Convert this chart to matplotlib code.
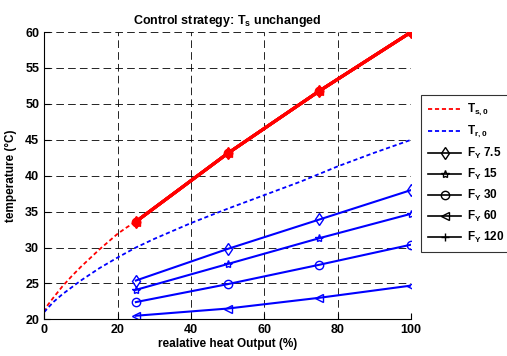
import matplotlib.pyplot as plt
from matplotlib.lines import Line2D

plt.rcParams['font.family'] = ['Liberation Sans', 'DejaVu Sans']
plt.rcParams['font.weight'] = 'bold'
plt.rcParams['lines.scale_dashes'] = False
plt.rcParams['mathtext.fontset'] = 'custom'
plt.rcParams['mathtext.rm'] = 'Liberation Sans'
plt.rcParams['mathtext.bf'] = 'Liberation Sans:bold'

# design curves (dashed)
q_ts0 = [0, 1, 2.5, 5, 7.5, 10, 12.5, 15, 17.5, 20, 22.5, 25]
ts0 = [21.0, 22.0, 23.0, 24.6, 26.0, 27.3, 28.5, 29.7, 30.8, 31.9, 32.8, 33.6]
q_tr0 = [0, 2.5, 5, 10, 15, 20, 25, 30, 40, 50, 60, 70, 80, 90, 100]
tr0 = [21.0, 22.4, 23.5, 25.4, 27.1, 28.6, 30.0, 31.2, 33.4, 35.4, 37.3, 39.2, 41.3, 43.2, 45.0]

# simulated points
q = [25, 50, 75, 100]
ts = [33.6, 43.1, 51.8, 60.0]
fy_labels = ['7.5', '15', '30', '60', '120']
fy_markers = ['d', '*', 'o', '<', '+']
tr_fy = {
    '7.5': [25.4, 29.8, 33.9, 38.0],
    '15': [24.1, 27.7, 31.3, 34.7],
    '30': [22.4, 24.9, 27.6, 30.4],
    '60': [20.5, 21.5, 23.0, 24.7],
}

fig = plt.figure(figsize=(5.07, 3.56), dpi=100)
ax = fig.add_axes([0.087, 0.103, 0.724, 0.807])

ax.plot(q_ts0, ts0, color='red', ls=(0, (3, 2)), lw=1.3)
ax.plot(q_tr0, tr0, color='blue', ls=(0, (3, 2)), lw=1.3)
for m in fy_markers:
    ax.plot(q, ts, color='red', lw=2.2, marker=m, ms=6, mfc='red', mec='red')
for lab, m in zip(fy_labels, fy_markers):
    if lab in tr_fy:
        ax.plot(q, tr_fy[lab], color='blue', lw=1.5, marker=m, ms=6, mfc='none', mec='blue')

ax.set_xlim(0, 100)
ax.set_ylim(20, 60)
ax.set_xticks(range(0, 101, 20))
ax.set_yticks(range(20, 61, 5))
ax.grid(True, color='black', ls=(0, (5.5, 3)), lw=0.6)
ax.spines['top'].set_visible(False)
ax.spines['right'].set_visible(False)
ax.tick_params(direction='in', labelsize=9, length=4)
for t in ax.get_xticklabels() + ax.get_yticklabels():
    t.set_fontweight('bold')

ax.set_title('Control strategy: T$_\\mathbf{s}$ unchanged', fontsize=9, fontweight='bold')
ax.set_xlabel('realative heat Output (%)', fontsize=8.5, fontweight='bold', labelpad=1)
ax.set_ylabel('temperature (\u00b0C)', fontsize=8.5, fontweight='bold', labelpad=6)

handles = [Line2D([], [], color='red', ls=(0, (3, 2)), lw=1.3),
           Line2D([], [], color='blue', ls=(0, (3, 2)), lw=1.3)]
labels = ['T$_\\mathbf{s,0}$', 'T$_\\mathbf{r,0}$']
for lab, m in zip(fy_labels, fy_markers):
    handles.append(Line2D([], [], color='black', lw=1.2, marker=m, ms=6, mfc='none', mec='black'))
    labels.append('F$_\\mathbf{Y}$ ' + lab)
leg = fig.legend(handles, labels, loc='upper left', bbox_to_anchor=(421 / 507, 1 - 95 / 356),
                 fontsize=8.5, frameon=True, fancybox=False, handlelength=2.8,
                 borderpad=0.6, labelspacing=0.5, handletextpad=0.5, borderaxespad=0)
leg.get_frame().set_edgecolor('black')
leg.get_frame().set_linewidth(0.8)
for t in leg.get_texts():
    t.set_fontweight('bold')

fig.savefig('out.png', dpi=100)
